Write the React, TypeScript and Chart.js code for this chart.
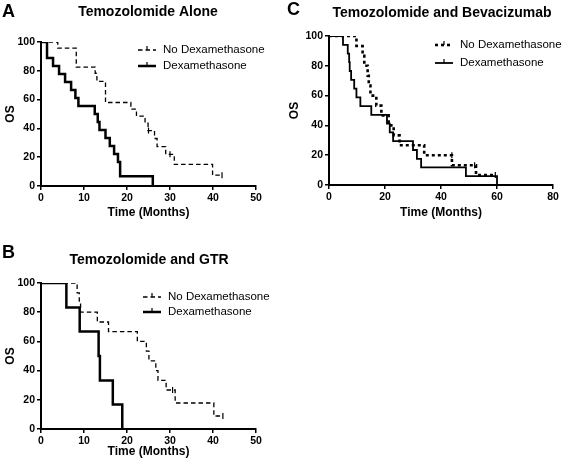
import React, { useEffect, useRef } from "react";
import { Chart, registerables } from "chart.js";

Chart.register(...registerables);

const FONT = "'Liberation Sans', Arial, Helvetica, sans-serif";

// ---------- Data ----------
const yTicks = [0, 20, 40, 60, 80, 100];
const xTicksAB = [0, 10, 20, 30, 40, 50];
const xTicksC = [0, 20, 40, 60, 80];

// Panel A: Temozolomide Alone
const aNoDexTime = [0, 3.9, 8.2, 12.6, 13.0, 15.0, 20.9, 22.2, 24.2, 24.9, 26.4, 27.0, 29.0, 31.0, 39.9, 42.1];
const aNoDexOS = [100, 95.7, 82.6, 78.3, 72.6, 58.0, 53.4, 48.5, 43.6, 38.5, 33.0, 27.4, 22.0, 15.0, 7.5, 7.5];
const aNoDexCensorTime = [25.0, 30.0, 42.1];
const aNoDexCensorOS = [38.5, 22.0, 7.5];
const aDexTime = [0, 1.4, 2.8, 4.2, 5.6, 7.0, 8.0, 8.7, 12.5, 13.2, 13.6, 15.0, 16.0, 17.0, 17.9, 18.4, 26.0];
const aDexOS = [100, 88.9, 83.3, 77.8, 72.2, 66.7, 61.1, 55.6, 50, 44.4, 38.9, 33.3, 27.8, 22.2, 16.7, 6.7, 0];

// Panel B: Temozolomide and GTR
const bNoDexTime = [0, 8.4, 8.9, 9.2, 13.1, 15.7, 22.4, 24.5, 25.1, 26.7, 27.2, 29.1, 31.2, 40.2, 42.3];
const bNoDexOS = [100, 93.3, 86.7, 80, 73.3, 66.7, 60, 53.3, 46.7, 40, 33.3, 26.7, 17.8, 8.9, 8.9];
const bNoDexCensorTime = [30.6, 42.3];
const bNoDexCensorOS = [26.7, 8.9];
const bDexTime = [0, 5.9, 9.0, 13.4, 13.7, 16.7, 18.9];
const bDexOS = [100, 83.3, 66.7, 50, 33.3, 16.7, 0];

// Panel C: Temozolomide and Bevacizumab
const cNoDexTime = [0, 9.8, 12.0, 12.6, 13.8, 14.2, 14.8, 16.9, 18.7, 21.3, 23.1, 25.2, 34.0, 43.9, 52.5, 59.4];
const cNoDexOS = [100, 93.3, 86.7, 80, 73.3, 66.7, 60, 53.3, 46.7, 40, 33.3, 26.7, 20, 13.3, 6.7, 6.7];
const cNoDexCensorTime = [43.9, 52.0, 59.4];
const cNoDexCensorOS = [20, 13.3, 6.7];
const cDexTime = [0, 5.0, 6.7, 7.2, 7.4, 7.9, 9.0, 9.8, 11.2, 15.1, 20.7, 21.7, 22.9, 30.0, 31.4, 32.9, 48.9, 60.0];
const cDexOS = [100, 94.1, 88.2, 82.4, 76.5, 70.6, 64.7, 58.8, 52.9, 47.1, 41.2, 35.3, 29.4, 23.5, 17.6, 11.8, 5.9, 0];

const legendLabels = ["No Dexamethasone", "Dexamethasone"];

const pts = (t: number[], s: number[]) => t.map((x, i) => ({ x, y: s[i] }));

type LineStyle = { width: number; dash: number[] };

type PanelCfg = {
  letter: string;
  title: string;
  left: number;
  top: number;
  width: number;
  height: number;
  padTop: number;
  padRight: number;
  yAxisWidth: number;
  xAxisHeight: number;
  xTitlePadBottom: number;
  yTitlePadTop: number;
  xMax: number;
  xTicks: number[];
  letterX: number;
  letterY: number;
  titleX: number;
  titleY: number;
  legendX0: number;
  legendX1: number;
  legendTextX: number;
  legendY: number[];
  noDex: { t: number[]; s: number[]; ct: number[]; cs: number[] };
  dex: { t: number[]; s: number[] };
  noDexStyle: LineStyle;
  dexStyle: LineStyle;
};

function makeDecor(cfg: PanelCfg) {
  return {
    id: "decor" + cfg.letter,
    afterDraw(chart: any) {
      const ctx = chart.ctx as CanvasRenderingContext2D;
      ctx.save();
      ctx.fillStyle = "#000";
      ctx.strokeStyle = "#000";
      ctx.font = `bold 18px ${FONT}`;
      ctx.textAlign = "left";
      ctx.textBaseline = "alphabetic";
      ctx.fillText(cfg.letter, cfg.letterX, cfg.letterY);

      ctx.font = `bold 14px ${FONT}`;
      ctx.textAlign = "center";
      ctx.textBaseline = "middle";
      ctx.fillText(cfg.title, cfg.titleX, cfg.titleY);

      const styles = [cfg.noDexStyle, cfg.dexStyle];
      styles.forEach((st, i) => {
        const y = cfg.legendY[i];
        ctx.lineWidth = st.width;
        ctx.setLineDash(st.dash);
        ctx.beginPath();
        ctx.moveTo(cfg.legendX0, y);
        ctx.lineTo(cfg.legendX1, y);
        ctx.stroke();
        ctx.setLineDash([]);
        const mid = (cfg.legendX0 + cfg.legendX1) / 2;
        ctx.lineWidth = 1.2;
        ctx.beginPath();
        ctx.moveTo(mid, y);
        ctx.lineTo(mid, y - 4);
        ctx.stroke();
        ctx.font = `11.5px ${FONT}`;
        ctx.textAlign = "left";
        ctx.textBaseline = "middle";
        ctx.fillText(legendLabels[i], cfg.legendTextX, y);
      });
      ctx.restore();
    },
  };
}

function Panel({ cfg }: { cfg: PanelCfg }) {
  const ref = useRef<HTMLCanvasElement | null>(null);
  useEffect(() => {
    if (!ref.current) return;
    const tickFont = { family: FONT, size: 10.5, weight: "bold" as const };
    const titleFont = { family: FONT, size: 12, weight: "bold" as const };
    const chart = new Chart(ref.current, {
      type: "line",
      data: {
        datasets: [
          {
            label: legendLabels[0],
            data: pts(cfg.noDex.t, cfg.noDex.s),
            stepped: true,
            borderColor: "#000",
            borderWidth: cfg.noDexStyle.width,
            borderDash: cfg.noDexStyle.dash,
            pointRadius: 0,
            fill: false,
          },
          {
            label: legendLabels[1],
            data: pts(cfg.dex.t, cfg.dex.s),
            stepped: true,
            borderColor: "#000",
            borderWidth: cfg.dexStyle.width,
            pointRadius: 0,
            fill: false,
          },
          {
            label: "censored",
            data: pts(cfg.noDex.ct, cfg.noDex.cs),
            showLine: false,
            pointStyle: "line",
            rotation: 90,
            pointRadius: 3,
            pointBorderWidth: 1.2,
            pointBorderColor: "#000",
            borderColor: "#000",
          } as any,
        ],
      },
      options: {
        animation: false,
        responsive: false,
        devicePixelRatio: 1,
        layout: {
          padding: { top: cfg.padTop, right: cfg.padRight, left: 0, bottom: 0 },
        },
        plugins: {
          legend: { display: false },
          tooltip: { enabled: false },
          title: { display: false },
        },
        scales: {
          x: {
            type: "linear",
            min: 0,
            max: cfg.xMax,
            afterBuildTicks: (s: any) => {
              s.ticks = cfg.xTicks.map((v) => ({ value: v }));
            },
            afterFit: (s: any) => {
              s.height = cfg.xAxisHeight;
            },
            grid: {
              display: true,
              drawOnChartArea: false,
              drawTicks: true,
              tickLength: 4,
              color: "#000",
              lineWidth: 1.5,
            },
            border: { display: true, color: "#000", width: 2 },
            ticks: { color: "#000", font: tickFont, padding: 2, maxRotation: 0 },
            title: {
              display: true,
              text: "Time (Months)",
              color: "#000",
              font: titleFont,
              padding: { top: 0, bottom: cfg.xTitlePadBottom },
            },
          },
          y: {
            type: "linear",
            min: 0,
            max: 100,
            afterBuildTicks: (s: any) => {
              s.ticks = yTicks.map((v) => ({ value: v }));
            },
            afterFit: (s: any) => {
              s.width = cfg.yAxisWidth;
            },
            grid: {
              display: true,
              drawOnChartArea: false,
              drawTicks: true,
              tickLength: 4,
              color: "#000",
              lineWidth: 1.5,
            },
            border: { display: true, color: "#000", width: 2 },
            ticks: { color: "#000", font: tickFont, padding: 2 },
            title: {
              display: true,
              text: "OS",
              color: "#000",
              font: titleFont,
              padding: { top: cfg.yTitlePadTop, bottom: 0 },
            },
          },
        },
      },
      plugins: [makeDecor(cfg)],
    });
    return () => chart.destroy();
  }, [cfg]);
  return (
    <canvas
      ref={ref}
      width={cfg.width}
      height={cfg.height}
      style={{ position: "absolute", left: cfg.left, top: cfg.top, width: cfg.width, height: cfg.height }}
    />
  );
}

const panelA: PanelCfg = {
  letter: "A",
  title: "Temozolomide Alone",
  left: 0,
  top: 0,
  width: 283,
  height: 231,
  padTop: 42,
  padRight: 27,
  yAxisWidth: 41,
  xAxisHeight: 45,
  xTitlePadBottom: 11,
  yTitlePadTop: 3,
  xMax: 50,
  xTicks: xTicksAB,
  letterX: 2,
  letterY: 17,
  titleX: 148,
  titleY: 12,
  legendX0: 138,
  legendX1: 156,
  legendTextX: 163,
  legendY: [50, 66],
  noDex: { t: aNoDexTime, s: aNoDexOS, ct: aNoDexCensorTime, cs: aNoDexCensorOS },
  dex: { t: aDexTime, s: aDexOS },
  noDexStyle: { width: 1.3, dash: [4.5, 3] },
  dexStyle: { width: 2.5, dash: [] },
};

const panelB: PanelCfg = {
  letter: "B",
  title: "Temozolomide and GTR",
  left: 0,
  top: 240,
  width: 283,
  height: 223,
  padTop: 43,
  padRight: 27,
  yAxisWidth: 41,
  xAxisHeight: 34,
  xTitlePadBottom: 4,
  yTitlePadTop: 3,
  xMax: 50,
  xTicks: xTicksAB,
  letterX: 2,
  letterY: 18,
  titleX: 149,
  titleY: 20,
  legendX0: 143,
  legendX1: 161,
  legendTextX: 168,
  legendY: [57, 72],
  noDex: { t: bNoDexTime, s: bNoDexOS, ct: bNoDexCensorTime, cs: bNoDexCensorOS },
  dex: { t: bDexTime, s: bDexOS },
  noDexStyle: { width: 1.3, dash: [4.5, 3] },
  dexStyle: { width: 2.5, dash: [] },
};

const panelC: PanelCfg = {
  letter: "C",
  title: "Temozolomide and Bevacizumab",
  left: 283,
  top: 0,
  width: 284,
  height: 231,
  padTop: 36,
  padRight: 14,
  yAxisWidth: 46,
  xAxisHeight: 46,
  xTitlePadBottom: 11,
  yTitlePadTop: 4,
  xMax: 80,
  xTicks: xTicksC,
  letterX: 4,
  letterY: 15,
  titleX: 159,
  titleY: 13,
  legendX0: 152,
  legendX1: 170,
  legendTextX: 177,
  legendY: [45, 63],
  noDex: { t: cNoDexTime, s: cNoDexOS, ct: cNoDexCensorTime, cs: cNoDexCensorOS },
  dex: { t: cDexTime, s: cDexOS },
  noDexStyle: { width: 2.6, dash: [3, 3] },
  dexStyle: { width: 1.8, dash: [] },
};

export default function App() {
  return (
    <div style={{ position: "absolute", left: 0, top: 0, width: 567, height: 463, background: "#fff" }}>
      <Panel cfg={panelA} />
      <Panel cfg={panelB} />
      <Panel cfg={panelC} />
    </div>
  );
}
